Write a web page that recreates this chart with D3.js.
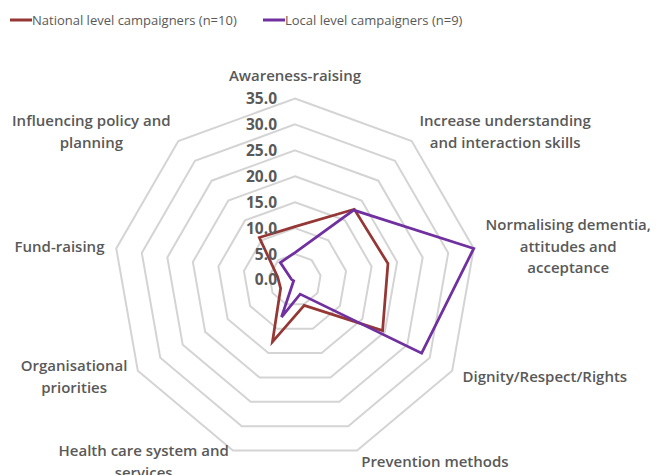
<!DOCTYPE html>
<html lang="en">
<head>
  <meta charset="UTF-8" />
  <title>Campaign aims radar</title>
  <script src="https://d3js.org/d3.v7.min.js"></script>
  <style>
    body, html { margin: 0; padding: 0; background: #fff; }
    svg { display: block; font-family: "Open Sans", sans-serif; }
  </style>
</head>
<body>
  <svg id="chart" width="663" height="475"></svg>

  <script>
    // Axes (clockwise from the top) and the two series
    const categories = [
      "Awareness-raising",
      "Increase understanding|and interaction skills",
      "Normalising dementia,|attitudes and|acceptance",
      "Dignity/Respect/Rights",
      "Prevention methods",
      "Health care system and|services",
      "Organisational|priorities",
      "Fund-raising",
      "Influencing policy and|planning"
    ];
    const nationalValues = [10.3, 17.8, 18.2, 19.5, 5.2, 12.7, 3.2, 3.4, 10.7];
    const localValues    = [5.3, 17.6, 35.0, 28.2, 2.9, 7.6, 0.3, 0.7, 4.4];
    const seriesNames = ["National level campaigners (n=10)", "Local level campaigners (n=9)"];
    const tickValues = [0, 5, 10, 15, 20, 25, 30, 35];

    const series = [
      { name: seriesNames[0], values: nationalValues, color: "#953735" },
      { name: seriesNames[1], values: localValues, color: "#7030a0" }
    ];

    const svg = d3.select("#chart");
    const cx = 295, cy = 280, R = 181.5;
    const textColor = "#595959";

    const r = d3.scaleLinear().domain([0, 35]).range([0, R]);
    const angle = d3.scaleLinear().domain([0, categories.length]).range([0, 2 * Math.PI]);

    const g = svg.append("g").attr("transform", `translate(${cx},${cy})`);

    // Gridline rings (nonagons)
    const ring = d3.lineRadial()
      .angle((d, i) => angle(i))
      .radius(d => r(d))
      .curve(d3.curveLinearClosed);

    g.selectAll("path.grid")
      .data(tickValues.filter(t => t > 0))
      .join("path")
      .attr("class", "grid")
      .attr("d", t => ring(categories.map(() => t)))
      .attr("fill", "none")
      .attr("stroke", "#d4d4d4")
      .attr("stroke-width", 2);

    // Series lines
    g.selectAll("path.series")
      .data(series)
      .join("path")
      .attr("class", "series")
      .attr("d", s => ring(s.values))
      .attr("fill", "none")
      .attr("stroke", s => s.color)
      .attr("stroke-width", 2.75)
      .attr("stroke-linejoin", "miter");

    // Value axis tick labels, left of the vertical axis
    g.selectAll("text.tick")
      .data(tickValues)
      .join("text")
      .attr("class", "tick")
      .attr("x", -18)
      .attr("y", t => -r(t))
      .attr("dy", "0.35em")
      .attr("text-anchor", "end")
      .attr("fill", textColor)
      .attr("font-size", 15.5)
      .attr("font-weight", 700)
      .text(t => t.toFixed(1));

    // Category labels outside the outer ring
    const lineH = 21.5;
    categories.forEach((c, i) => {
      const a = angle(i);
      const px = Math.sin(a) * (R + 12);
      const py = -Math.cos(a) * (R + 12);
      const lines = c.split("|");
      const t = g.append("text")
        .attr("fill", textColor)
        .attr("font-size", 15)
        .attr("font-weight", 600)
        .attr("text-anchor", "middle");
      lines.forEach(l => t.append("tspan").text(l));
      const w = d3.max(t.selectAll("tspan").nodes(), n => n.getComputedTextLength());
      let mx;
      if (Math.abs(Math.sin(a)) < 0.1) mx = px;
      else if (Math.sin(a) > 0) mx = px + w / 2;
      else mx = px - w / 2;
      const h = lines.length * lineH;
      const top = (i === 0) ? py - h : py - h / 2;
      t.selectAll("tspan")
        .attr("x", mx)
        .attr("y", (d, k) => top + k * lineH + lineH / 2)
        .attr("dy", "0.35em");
    });

    // Legend
    const legend = svg.append("g").attr("transform", "translate(10,20)");
    const legendX = [0, 253];
    series.forEach((s, i) => {
      const lg = legend.append("g").attr("transform", `translate(${legendX[i]},0)`);
      lg.append("line")
        .attr("x1", 0).attr("x2", 22)
        .attr("stroke", s.color).attr("stroke-width", 3);
      lg.append("text")
        .attr("x", 22).attr("dy", "0.35em")
        .attr("fill", textColor)
        .attr("font-size", 13)
        .text(s.name);
    });
  </script>
</body>
</html>
